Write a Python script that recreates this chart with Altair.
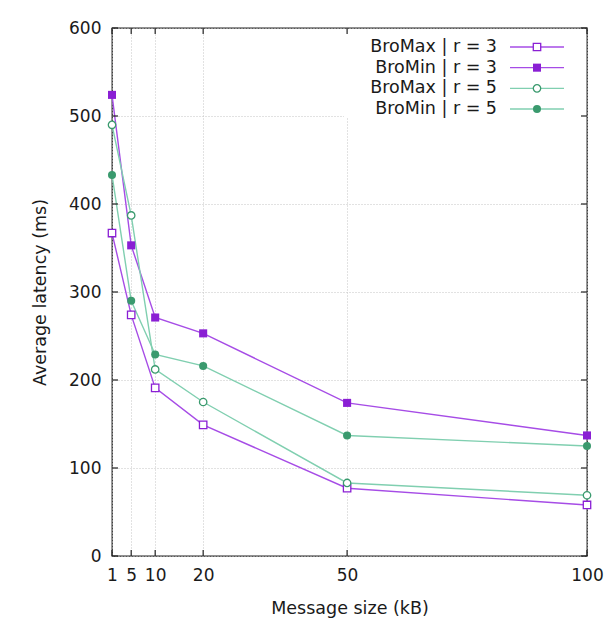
import altair as alt
import pandas as pd

sizes = [1, 5, 10, 20, 50, 100]
series = ["BroMax | r = 3", "BroMin | r = 3", "BroMax | r = 5", "BroMin | r = 5"]
bromax_r3 = [367, 274, 191, 149, 77, 58]
bromin_r3 = [524, 353, 271, 253, 174, 137]
bromax_r5 = [490, 387, 212, 175, 83, 69]
bromin_r5 = [433, 290, 229, 216, 137, 125]
hollow = [True, False, True, False]
x_ticks = [1, 5, 10, 20, 50, 100]
y_ticks = [0, 100, 200, 300, 400, 500, 600]

line_colors = ["#a64ce6", "#a64ce6", "#80cfb0", "#80cfb0"]
marker_colors = ["#8a1fd4", "#8a1fd4", "#3a9a6e", "#3a9a6e"]
shapes = ["square", "square", "circle", "circle"]

W, H = 475, 528
FONT = "DejaVu Sans"

rows = []
for name, vals, h in zip(series, [bromax_r3, bromin_r3, bromax_r5, bromin_r5], hollow):
    for s, v in zip(sizes, vals):
        rows.append({"series": name, "size": s, "latency": v, "hollow": h})
df = pd.DataFrame(rows)

xscale = alt.Scale(domain=[1, 100], nice=False, zero=False)
yscale = alt.Scale(domain=[0, 600], nice=False)
stroke_enc = alt.Stroke("series:N", scale=alt.Scale(domain=series, range=line_colors), legend=None)
color_enc = alt.Color("series:N", scale=alt.Scale(domain=series, range=marker_colors), legend=None)
shape_enc = alt.Shape("series:N", scale=alt.Scale(domain=series, range=shapes), legend=None)

x_axis = alt.Axis(values=x_ticks, title="Message size (kB)", ticks=False, grid=True, labelAngle=0,
                  labelPadding=11, titlePadding=16, domain=False, labelFlush=False)
y_axis = alt.Axis(values=y_ticks, title="Average latency (ms)", ticks=False, grid=True,
                  labelPadding=11, titlePadding=19, domain=False)
bx = alt.X("size:Q", scale=xscale, axis=x_axis)
by = alt.Y("latency:Q", scale=yscale, axis=y_axis)

base = alt.Chart(df)

bg = alt.Chart(alt.Data(values=[{"a": 1}])).mark_rect(color="white").encode(
    x=alt.value(232), x2=alt.value(474), y=alt.value(1), y2=alt.value(90))

lines = base.mark_line(strokeWidth=1.4).encode(
    x=bx, y=by, stroke=stroke_enc, detail="series:N")

open_pts = base.transform_filter("datum.hollow").mark_point(filled=False, fill="white", size=55, strokeWidth=1.3, opacity=1).encode(
    x=bx, y=by, color=color_enc, shape=shape_enc)

fill_pts = base.transform_filter("!datum.hollow").mark_point(filled=True, size=65, opacity=1).encode(
    x=bx, y=by, color=color_enc, shape=shape_enc)

xt = pd.DataFrame({"size": x_ticks})
yt = pd.DataFrame({"latency": y_ticks})
tick_style = dict(color="#222", strokeWidth=1.2)
ticks_bottom = alt.Chart(xt).mark_rule(**tick_style).encode(x=bx, y=alt.value(H), y2=alt.value(H - 6))
ticks_top = alt.Chart(xt).mark_rule(**tick_style).encode(x=bx, y=alt.value(0), y2=alt.value(6))
ticks_left = alt.Chart(yt).mark_rule(**tick_style).encode(y=by, x=alt.value(0), x2=alt.value(6))
ticks_right = alt.Chart(yt).mark_rule(**tick_style).encode(y=by, x=alt.value(W), x2=alt.value(W - 6))

main = alt.layer(bg, lines, open_pts, fill_pts, ticks_bottom, ticks_top, ticks_left, ticks_right)

leg_df = pd.DataFrame({"series": series, "hollow": hollow, "row": [0, 1, 2, 3]})
ly = alt.Y("row:Q", scale=alt.Scale(domain=[0, 3], range=[19, 81], nice=False, zero=False), axis=None)
leg_text = alt.Chart(leg_df).mark_text(align="right", baseline="middle", fontSize=17.5, font=FONT, color="#1a1a1a").encode(
    x=alt.value(385), y=ly, text="series:N")
leg_rule = alt.Chart(leg_df).mark_rule(strokeWidth=1.4).encode(
    x=alt.value(398), x2=alt.value(452), y=ly, stroke=stroke_enc)
leg_open = alt.Chart(leg_df).transform_filter("datum.hollow").mark_point(filled=False, fill="white", size=55, strokeWidth=1.3, opacity=1).encode(
    x=alt.value(425), y=ly, color=color_enc, shape=shape_enc)
leg_fill = alt.Chart(leg_df).transform_filter("!datum.hollow").mark_point(filled=True, size=65, opacity=1).encode(
    x=alt.value(425), y=ly, color=color_enc, shape=shape_enc)
legend = alt.layer(leg_text, leg_rule, leg_open, leg_fill)

chart = alt.layer(main, legend).resolve_scale(y="independent").properties(
    width=W, height=H,
    autosize=alt.AutoSizeParams(type="none"),
    padding={"left": 112, "top": 28, "right": 27, "bottom": 68},
    background="white",
).configure_view(stroke="#222", strokeWidth=1.3).configure_axis(
    labelFont=FONT, titleFont=FONT, labelFontSize=17, titleFontSize=17.5,
    titleFontWeight="normal", labelColor="#1a1a1a", titleColor="#1a1a1a",
    gridColor="#c4c4c4", gridDash=[1, 2], gridWidth=1,
)

chart.save("out.html", embed_options={"renderer": "svg", "actions": False})
